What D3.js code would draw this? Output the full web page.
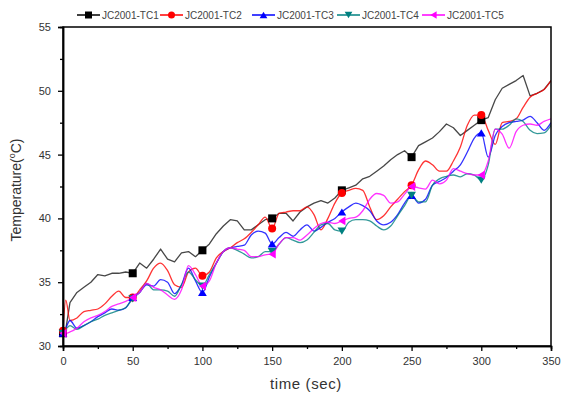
<!DOCTYPE html>
<html><head><meta charset="utf-8">
<script src="https://cdn.jsdelivr.net/npm/d3@7"></script>
<style>
html,body{margin:0;padding:0;background:#fff;}
svg{display:block;font-family:"Liberation Sans",Arial,sans-serif;}
</style></head>
<body><svg id="chart" width="563" height="394"></svg>
<script>
const seriesNames = ["JC2001-TC1","JC2001-TC2","JC2001-TC3","JC2001-TC4","JC2001-TC5"];
const time = [0,2,5,10,15,20,25,30,35,40,45,50,55,60,65,70,75,80,85,90,95,100,105,110,115,120,125,130,135,140,145,150,155,160,165,170,175,180,185,190,195,200,205,210,215,220,225,230,235,240,245,250,255,260,265,270,275,280,285,290,295,300,305,310,315,320,325,330,335,340,345,350];
const tc1 = [31.0,31.3,33.4,34.2,34.6,35.0,35.6,35.5,35.7,35.7,35.8,35.7,36.5,36.1,36.8,37.6,36.8,36.6,37.3,37.4,37.0,37.5,38.0,38.8,39.4,39.9,39.8,39.1,39.1,39.5,39.9,40.0,40.4,40.4,39.8,40.5,40.9,41.2,41.4,41.2,41.6,42.2,42.4,42.6,43.1,43.3,43.7,44.1,44.6,45.0,45.3,44.8,45.7,46.0,46.3,46.8,47.4,47.1,46.5,46.9,47.3,47.7,47.9,49.3,50.2,50.5,50.8,51.2,49.6,49.8,50.1,50.8];
const tc2 = [31.2,33.6,32.0,32.2,32.7,32.8,32.9,33.3,33.9,34.3,33.8,33.8,34.4,35.1,36.1,36.5,35.9,34.8,34.6,35.8,36.1,35.5,35.8,36.9,37.4,37.7,38.1,38.4,38.9,39.5,40.1,39.2,40.4,40.5,40.6,40.6,40.9,40.3,39.1,40.0,41.2,42.0,42.2,42.35,42.2,40.9,39.9,40.2,40.9,41.5,42.1,42.6,43.8,44.5,44.2,43.7,43.7,44.5,45.6,47.3,48.1,48.1,46.9,45.8,47.5,47.6,47.8,48.7,49.5,49.8,50.1,50.8];
const tc3 = [31.0,31.4,32.0,31.4,31.6,31.9,32.3,32.6,32.9,32.8,33.0,33.8,34.2,34.8,34.7,35.2,35.0,34.1,34.8,36.1,35.1,34.2,35.4,36.5,37.4,37.7,37.8,37.9,38.7,39.0,38.85,38.0,38.5,38.9,38.6,39.1,39.5,39.0,39.3,39.7,40.0,40.5,40.9,41.2,41.0,40.6,39.8,39.5,39.7,40.3,41.2,41.8,41.2,41.5,42.6,42.9,43.2,43.7,44.2,45.2,46.3,46.7,44.8,46.5,47.2,47.5,47.6,47.7,48.0,47.5,46.9,47.5];
const tc4 = [31.0,31.3,31.6,31.3,31.6,31.9,32.1,32.4,32.6,32.8,33.0,33.7,34.2,34.9,34.4,34.4,34.3,33.9,34.8,35.8,35.2,34.7,35.6,36.5,37.4,37.7,37.5,37.2,36.9,37.0,37.4,37.4,38.0,38.5,38.3,38.1,38.3,38.9,39.5,39.6,39.1,39.0,39.7,39.9,39.9,39.8,39.4,39.1,39.4,40.2,41.0,41.8,41.3,41.3,42.6,43.1,43.3,43.4,43.25,43.5,43.4,43.0,44.2,47.0,47.0,47.3,47.8,47.6,46.9,46.65,46.7,47.3];
const tc5 = [31.0,31.0,31.1,31.4,31.9,32.2,32.4,32.7,33.1,33.3,33.5,33.8,34.2,34.9,34.6,34.4,34.0,33.65,34.4,36.3,35.6,34.7,35.1,36.5,37.4,37.7,37.6,37.5,37.0,37.0,37.15,37.2,38.0,38.5,38.5,38.3,38.7,39.2,39.6,39.7,39.6,39.8,40.0,40.1,40.6,41.5,41.95,41.8,41.2,41.3,41.9,42.5,42.4,42.3,43.0,42.7,43.0,43.9,43.7,43.5,43.4,43.4,44.5,47.0,46.6,45.5,46.8,47.3,47.4,47.3,47.6,47.8];
const markerTimes = [0,50,100,150,200,250,300];
const xTicks = [0,50,100,150,200,250,300,350];
const yTicks = [30,35,40,45,50,55];
const colors = ["#000000","#ff0000","#0000ff","#008080","#ff00ff"];
const symbols = ["square","circle","triangleUp","triangleDown","triangleLeft"];
const seriesValues = [tc1,tc2,tc3,tc4,tc5];

const W = 563, H = 394;
const m = {left:63, right:12, top:27, bottom:48};
const svg = d3.select("#chart");
const x = d3.scaleLinear().domain([0,350]).range([m.left, W-m.right]);
const y = d3.scaleLinear().domain([30,55]).range([H-m.bottom, m.top]);

svg.append("defs").append("clipPath").attr("id","clip")
  .append("rect").attr("x",m.left).attr("y",m.top).attr("width",W-m.left-m.right).attr("height",H-m.top-m.bottom);

const plotG = svg.append("g").attr("clip-path","url(#clip)");
seriesValues.forEach((vals,i)=>{
  const data = time.map((t,k)=>({t:t, v:vals[k]}));
  const line = d3.line().x(d=>x(d.t)).y(d=>y(d.v))
    .curve(i===0 ? d3.curveLinear : d3.curveMonotoneX);
  plotG.append("path").datum(data)
    .attr("fill","none")
    .attr("stroke", i===0 ? "#333" : colors[i])
    .attr("stroke-opacity", i===0 ? 0.9 : 0.8)
    .attr("stroke-width",1.3)
    .attr("stroke-linejoin","round")
    .attr("d",line);
});

function symbolPath(kind, size){
  const s = size;
  if(kind==="square") return `M${-s/2},${-s/2}h${s}v${s}h${-s}Z`;
  if(kind==="circle") return d3.symbol().type(d3.symbolCircle).size(Math.PI*(s/2)*(s/2))();
  const h = s*0.9, w = s*0.55;
  if(kind==="triangleUp") return `M0,${-h/2}L${w},${h/2}L${-w},${h/2}Z`;
  if(kind==="triangleDown") return `M0,${h/2}L${w},${-h/2}L${-w},${-h/2}Z`;
  if(kind==="triangleLeft") return `M${-h/2},0L${h/2},${-w}L${h/2},${w}Z`;
}

seriesValues.forEach((vals,i)=>{
  const pts = markerTimes.map(t=>({t:t, v:vals[time.indexOf(t)]}));
  svg.append("g").selectAll("path").data(pts).join("path")
    .attr("transform",d=>`translate(${x(d.t)},${y(d.v)})`)
    .attr("d",symbolPath(symbols[i], 8))
    .attr("fill",colors[i]);
});

svg.append("rect").attr("x",m.left).attr("y",m.top)
  .attr("width",W-m.left-m.right).attr("height",H-m.top-m.bottom)
  .attr("fill","none").attr("stroke","#000").attr("stroke-width",1.5);

const yAxis = svg.append("g").attr("transform",`translate(${m.left},0)`)
  .call(d3.axisLeft(y).tickValues(yTicks).tickSize(5).tickPadding(7).tickFormat(d3.format("d")));
const yMinor = svg.append("g").attr("transform",`translate(${m.left},0)`)
  .call(d3.axisLeft(y).tickValues(d3.range(32.5,55,5)).tickSize(3).tickFormat(""));
const xAxis = svg.append("g").attr("transform",`translate(0,${H-m.bottom})`)
  .call(d3.axisBottom(x).tickValues(xTicks).tickSize(5).tickPadding(6).tickFormat(d3.format("d")));
const xMinor = svg.append("g").attr("transform",`translate(0,${H-m.bottom})`)
  .call(d3.axisBottom(x).tickValues(d3.range(25,350,50)).tickSize(3).tickFormat(""));
[yAxis,yMinor,xAxis,xMinor].forEach(g=>{
  g.select(".domain").attr("stroke","#000").attr("stroke-width",1.5);
  g.selectAll(".tick line").attr("stroke","#000").attr("stroke-width",1.3);
  g.selectAll("text").attr("font-family","'Liberation Sans',Arial,sans-serif")
    .attr("font-size",11).attr("fill","#333");
});

svg.append("text").attr("x",306).attr("y",389).attr("text-anchor","middle")
  .attr("font-size",15).attr("fill","#333").attr("letter-spacing",0.6).text("time (sec)");
const yt = svg.append("text").attr("transform","translate(21,190) rotate(-90)")
  .attr("text-anchor","middle").attr("font-size",14).attr("fill","#333");
yt.append("tspan").text("Temperature(");
yt.append("tspan").attr("font-size",9).attr("dy",-6).text("o");
yt.append("tspan").attr("dy",6).text("C)");

const legX = [77,160,252,337,422];
const lg = svg.append("g");
seriesNames.forEach((name,i)=>{
  const g = lg.append("g").attr("transform",`translate(${legX[i]},15)`);
  g.append("line").attr("x1",0).attr("x2",23).attr("y1",0).attr("y2",0)
    .attr("stroke",colors[i]).attr("stroke-width",1.5);
  g.append("path").attr("transform","translate(11.5,0)").attr("d",symbolPath(symbols[i],7)).attr("fill",colors[i]);
  g.append("text").attr("x",25).attr("y",3.5).attr("font-size",10).attr("fill","#444").text(name);
});
</script></body></html>
